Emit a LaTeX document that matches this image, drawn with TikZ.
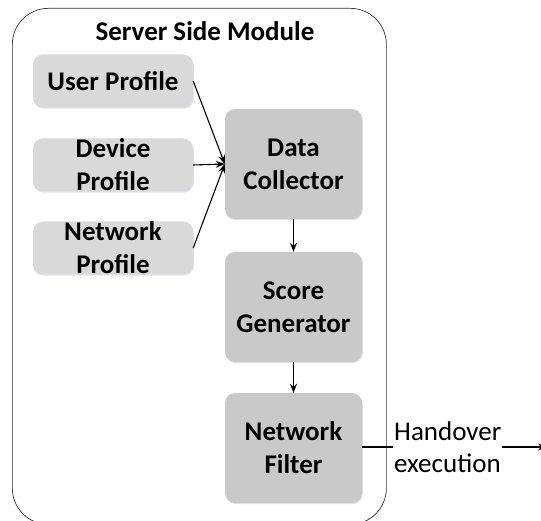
\documentclass[tikz,border=0pt]{standalone}
\usepackage{fontspec}
\setmainfont{Carlito}
\usetikzlibrary{arrows.meta,shadows}
\begin{document}
\begin{tikzpicture}[x=1pt,y=-1pt,
  bigfont/.style={font=\fontsize{27}{33}\selectfont\bfseries},
  lightbox/.style={fill=lightgrey, rounded corners=10pt, minimum width=160pt, minimum height=53pt, align=center, bigfont, inner sep=0pt, drop shadow={shadow xshift=0.8pt, shadow yshift=-1.2pt, fill=shadowcol, opacity=0.6}},
  darkbox/.style={fill=darkgrey, rounded corners=10pt, minimum width=137pt, minimum height=110pt, align=center, bigfont, inner sep=1pt, drop shadow={shadow xshift=0.8pt, shadow yshift=-1.2pt, fill=shadowcol, opacity=0.6}},
  conn/.style={-{Stealth[length=9pt,width=7pt]}, line width=1.1pt}
]
\definecolor{lightgrey}{HTML}{D9D9D9}
\definecolor{darkgrey}{HTML}{C9C9C9}
\definecolor{shadowcol}{HTML}{C8D0DA}
\useasboundingbox (0,0) rectangle (541,521);
\node[draw=black!80, line width=0.7pt, rounded corners=36pt, minimum width=374pt, minimum height=516pt, anchor=north west] (outer) at (12,8) {};
\node[bigfont] (title) at (205,31) {Server Side Module};
\node[lightbox] (up) at (113,81) {User Profile};
\node[lightbox] (dp) at (113,165) {Device\\Profile};
\node[lightbox] (np) at (113,248) {Network\\Profile};
\node[darkbox] (dc) at (293.5,164) {Data\\Collector};
\node[darkbox] (sg) at (293.5,307) {Score\\Generator};
\node[darkbox] (nf) at (293.5,448) {Network\\Filter};
\node[font=\fontsize{27}{32}\selectfont, align=left, inner sep=1pt, anchor=west] (ho) at (393,447) {Handover\\execution};
\coordinate (endp) at (547,447);
\draw[conn] (up.east) -- (dc.west);
\draw[conn] (dp.east) -- (dc.west);
\draw[conn] (np.east) -- (dc.west);
\draw[conn] (dc.south) -- (sg.north);
\draw[conn] (sg.south) -- (nf.north);
\draw[line width=1.1pt] (nf.east |- 0,447) -- (ho.west |- 0,447);
\draw[conn] (ho.east |- 0,447) -- (endp);
\end{tikzpicture}
\end{document}
